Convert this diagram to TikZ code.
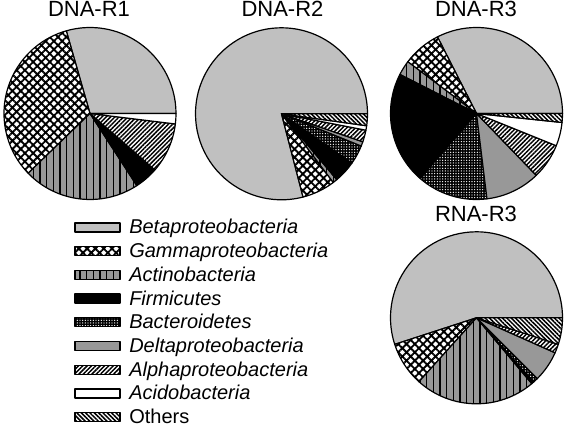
\documentclass[tikz,border=0pt]{standalone}
\usepackage{fontspec}
\setmainfont{Liberation Sans}
\usetikzlibrary{patterns.meta}
\definecolor{lightgrey}{RGB}{192,192,192}
\definecolor{midgrey}{RGB}{152,152,152}
% one wedge: centre x, centre y, from angle, to angle, style
\newcommand{\pieslice}[5]{\draw[#5] (#1,#2) -- ++(-#3:86) arc[start angle=-#3, end angle=-#4, radius=86] -- cycle;}
\begin{document}
\begin{tikzpicture}[x=0.75pt,y=0.75pt,yscale=-1,xscale=1,
  wedge/.style={draw=black, line width=0.9pt, line join=round},
  betafill/.style={wedge, fill=lightgrey},
  gammafill/.style={wedge, preaction={fill=white}, pattern={Hatch[angle=45,distance=4.4pt,line width=1.4pt]}},
  actinofill/.style={wedge, preaction={fill=midgrey}, pattern={Lines[angle=90,distance=5pt,line width=0.8pt]}},
  firmfill/.style={wedge, fill=black},
  bactfill/.style={wedge, preaction={fill=black}, pattern={Dots[distance=2pt,radius=0.5pt]}, pattern color=white},
  deltafill/.style={wedge, fill=midgrey},
  alphafill/.style={wedge, preaction={fill=white}, pattern={Lines[angle=45,distance=2.3pt,line width=1.1pt]}},
  acidofill/.style={wedge, fill=white},
  othersfill/.style={wedge, preaction={fill=white}, pattern={Lines[angle=-45,distance=2.3pt,line width=1.15pt]}},
  title/.style={anchor=base, inner sep=0pt, font=\fontsize{16.5}{19}\selectfont},
  legtext/.style={anchor=base west, inner sep=0pt, font=\fontsize{15}{18}\selectfont\itshape}]
\useasboundingbox (0,0) rectangle (567,427);

%Pie: DNA-R1
\pieslice{90}{113.5}{0}{106}{betafill}
\pieslice{90}{113.5}{106}{224}{gammafill}
\pieslice{90}{113.5}{224}{303}{actinofill}
\pieslice{90}{113.5}{303}{319}{firmfill}
\pieslice{90}{113.5}{319}{353}{alphafill}
\pieslice{90}{113.5}{353}{360}{acidofill}

%Pie: DNA-R2
\pieslice{281.5}{113.8}{0}{284.5}{betafill}
\pieslice{281.5}{113.8}{284.5}{307}{gammafill}
\pieslice{281.5}{113.8}{307}{310}{actinofill}
\pieslice{281.5}{113.8}{310}{325}{firmfill}
\pieslice{281.5}{113.8}{325}{338}{bactfill}
\pieslice{281.5}{113.8}{338}{341}{deltafill}
\pieslice{281.5}{113.8}{341}{349}{alphafill}
\pieslice{281.5}{113.8}{349}{352}{acidofill}
\pieslice{281.5}{113.8}{352}{360}{othersfill}

%Pie: DNA-R3
\pieslice{476.5}{113.5}{0}{117}{betafill}
\pieslice{476.5}{113.5}{117}{143}{gammafill}
\pieslice{476.5}{113.5}{143}{153}{actinofill}
\pieslice{476.5}{113.5}{153}{229}{firmfill}
\pieslice{476.5}{113.5}{229}{277}{bactfill}
\pieslice{476.5}{113.5}{277}{314}{deltafill}
\pieslice{476.5}{113.5}{314}{338}{alphafill}
\pieslice{476.5}{113.5}{338}{354}{acidofill}
\pieslice{476.5}{113.5}{354}{360}{othersfill}

%Pie: RNA-R3
\pieslice{476.5}{317.8}{0}{198}{betafill}
\pieslice{476.5}{317.8}{198}{228}{gammafill}
\pieslice{476.5}{317.8}{228}{310}{actinofill}
\pieslice{476.5}{317.8}{310}{311.5}{firmfill}
\pieslice{476.5}{317.8}{311.5}{315}{bactfill}
\pieslice{476.5}{317.8}{315}{336}{deltafill}
\pieslice{476.5}{317.8}{336}{342}{alphafill}
\pieslice{476.5}{317.8}{342}{360}{othersfill}

% Text Node
\node[title] (tR1) at (89,16.7) {DNA-R1};
\node[title] (tR2) at (282.5,16.7) {DNA-R2};
\node[title] (tR3) at (476,16.7) {DNA-R3};
\node[title] (tRNA) at (476,221.7) {RNA-R3};

%Legend boxes
\draw[betafill] (75,223) rectangle (120,232);
\draw[gammafill] (75,246.7) rectangle (120,255.7);
\draw[actinofill] (75,270.4) rectangle (120,279.4);
\draw[firmfill] (75,294.1) rectangle (120,303.1);
\draw[bactfill] (75,317.8) rectangle (120,326.8);
\draw[deltafill] (75,341.5) rectangle (120,350.5);
\draw[alphafill] (75,365.2) rectangle (120,374.2);
\draw[acidofill] (75,388.9) rectangle (120,397.9);
\draw[othersfill] (75,412.6) rectangle (120,421.6);

% Text Node
\node[legtext] (lbeta) at (129,234) {Betaproteobacteria};
\node[legtext] (lgamma) at (129,257.7) {Gammaproteobacteria};
\node[legtext] (lactino) at (129,281.4) {Actinobacteria};
\node[legtext] (lfirm) at (129,305.1) {Firmicutes};
\node[legtext] (lbact) at (129,328.8) {Bacteroidetes};
\node[legtext] (ldelta) at (129,352.5) {Deltaproteobacteria};
\node[legtext] (lalpha) at (129,376.2) {Alphaproteobacteria};
\node[legtext] (lacido) at (129,399.9) {Acidobacteria};
\node[legtext, font=\fontsize{15}{18}\selectfont\upshape] (lothers) at (129,423.6) {Others};

\end{tikzpicture}
\end{document}
